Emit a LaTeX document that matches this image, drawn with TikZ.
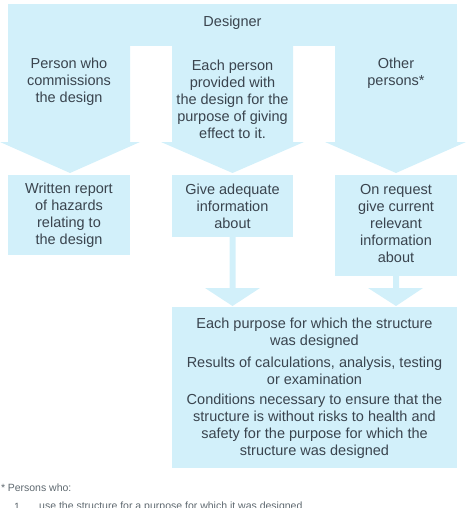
\documentclass[tikz,border=0pt]{standalone}
\usepackage{fontspec}
\setmainfont{Liberation Sans}
\definecolor{boxblue}{RGB}{210,240,250}
\definecolor{txt}{RGB}{58,68,78}
\definecolor{notetxt}{RGB}{95,105,112}
\begin{document}
\begin{tikzpicture}[x=1pt,y=-1pt,
  lbl/.style={text=txt, font=\fontsize{14.5}{17}\selectfont, align=center, inner sep=0pt},
  note/.style={text=notetxt, font=\fontsize{10.5}{12}\selectfont, anchor=west, inner sep=0pt},
  shape blue/.style={fill=boxblue}]
\useasboundingbox (0,0) rectangle (466,508);
% top banner and three downward arrows
\fill[shape blue] (8,4) rectangle (457,46);
\fill[shape blue] (8,40) -- (130,40) -- (130,142) -- (140,142) -- (70,173) -- (0,142) -- (8,142) -- cycle;
\fill[shape blue] (172,40) -- (293,40) -- (293,142) -- (304,142) -- (232.5,173) -- (161,142) -- (172,142) -- cycle;
\fill[shape blue] (335,40) -- (457,40) -- (457,142) -- (466,142) -- (396,173) -- (325,142) -- (335,142) -- cycle;
% second row boxes
\fill[shape blue] (8,175) rectangle (130,255);
\fill[shape blue] (172,175) rectangle (293,237);
\fill[shape blue] (335,175) rectangle (457,276);
% stems and arrowheads to bottom box
\fill[shape blue] (229.5,237) -- (235.5,237) -- (235.5,288) -- (260,288) -- (232.5,306) -- (205,288) -- (229.5,288) -- cycle;
\fill[shape blue] (393,276) -- (399,276) -- (399,288) -- (423,288) -- (396,306) -- (368,288) -- (393,288) -- cycle;
% bottom box
\fill[shape blue] (172,307) rectangle (457,468);
% texts
\node[lbl] (designer) at (232.5,23) {Designer};
\node[lbl] (client) at (69,82) {Person who\\commissions\\the design};
\node[lbl] (each) at (232.5,99) {Each person\\provided with\\the design for the\\purpose of giving\\effect to it.};
\node[lbl] (other) at (396,73.5) {Other\\persons*};
\node[lbl] (report) at (69,215) {Written report\\of hazards\\relating to\\the design};
\node[lbl] (adequate) at (232.5,206.5) {Give adequate\\information\\about};
\node[lbl] (request) at (396,223.5) {On request\\give current\\relevant\\information\\about};
\node[lbl] (purpose) at (314.5,333.5) {Each purpose for which the structure\\was designed};
\node[lbl] (results) at (314.5,370.5) {Results of calculations, analysis, testing\\or examination};
\node[lbl] (conditions) at (314.5,426) {Conditions necessary to ensure that the\\structure is without risks to health and\\safety for the purpose for which the\\structure was designed};
\node[note] (star) at (1,488) {*\hspace{2.5pt}Persons who:};
\node[note] (one) at (14,507) {1};
\node[note] (use) at (39,507) {use the structure for a purpose for which it was designed};
\end{tikzpicture}
\end{document}
